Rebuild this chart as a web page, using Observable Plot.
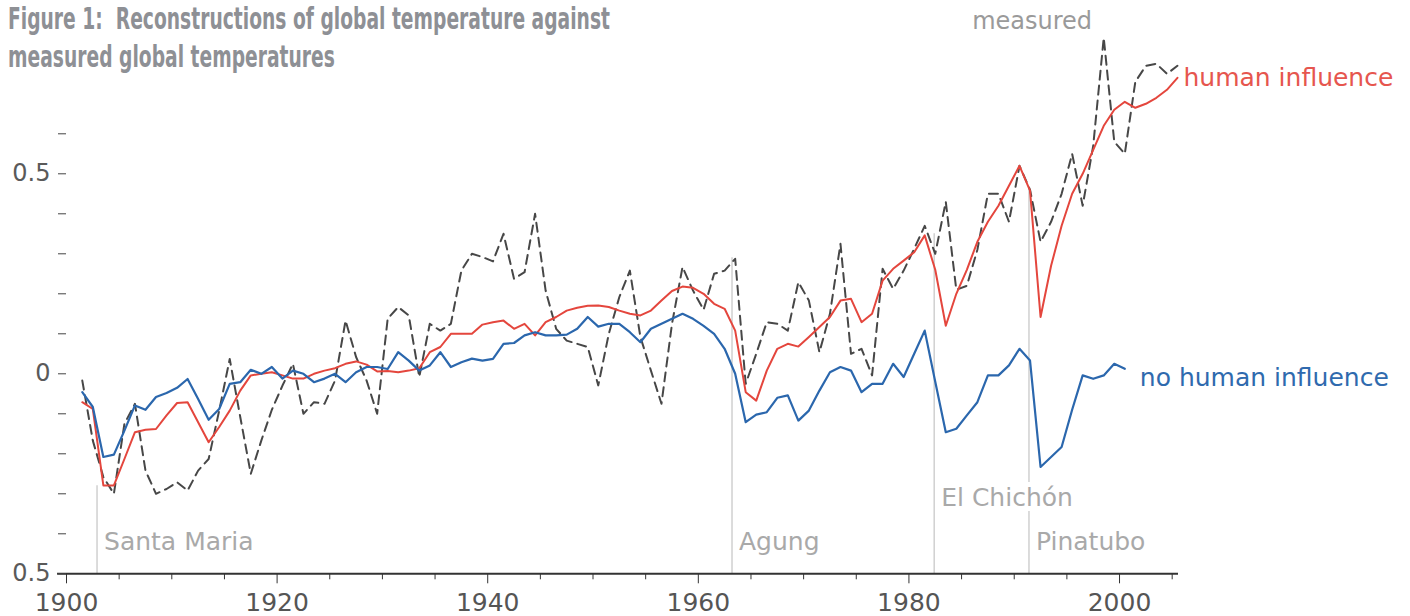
<!DOCTYPE html>
<html>
<head>
<meta charset="utf-8">
<script src="https://cdn.jsdelivr.net/npm/d3@7"></script>
<script src="https://cdn.jsdelivr.net/npm/@observablehq/plot@0.6"></script>
<style>
  body { margin: 0; background: #fff; }
  #wrap { position: relative; width: 1410px; height: 616px; overflow: hidden; }
  #title {
    position: absolute; left: 8px; top: -1px;
    font-family: "Liberation Sans Narrow", "DejaVu Sans Condensed", "Roboto Condensed", sans-serif;
    font-stretch: condensed; font-weight: bold; font-size: 31px; line-height: 38px;
    color: #8e9095; white-space: nowrap; transform-origin: 0 0;
  }
  #title span { display: inline-block; }
</style>
</head>
<body>
<div id="wrap">
  <div id="chart"></div>
  <div id="title"><span id="t1">Figure 1:&nbsp; Reconstructions of global temperature against</span><br><span>measured global temperatures</span></div>
</div>
<script>
// Global temperature anomalies (°C), annual values from 1901 onward
const firstYear = 1901;

const measured = [
  -0.017, -0.167, -0.258, -0.30, -0.125, -0.075, -0.242, -0.30, -0.288, -0.271,
  -0.292, -0.242, -0.213, -0.092, 0.037, -0.108, -0.25, -0.167, -0.09, -0.03,
  0.025, -0.10, -0.071, -0.075, -0.017, 0.133, 0.042, -0.017, -0.10, 0.1375,
  0.167, 0.146, -0.008, 0.125, 0.108, 0.125, 0.258, 0.30, 0.292, 0.281,
  0.35, 0.2375, 0.254, 0.40, 0.208, 0.1125, 0.083, 0.075, 0.067, -0.029,
  0.10, 0.192, 0.258, 0.092, 0.008, -0.075, 0.125, 0.267, 0.208, 0.16,
  0.25, 0.258, 0.2875, -0.025, 0.05, 0.129, 0.125, 0.108, 0.229, 0.183,
  0.054, 0.15, 0.325, 0.05, 0.0625, -0.004, 0.2625, 0.2125, 0.258, 0.3125,
  0.37, 0.30, 0.43, 0.21, 0.22, 0.31, 0.45, 0.45, 0.38, 0.52,
  0.46, 0.33, 0.38, 0.45, 0.55, 0.42, 0.57, 0.84, 0.58, 0.55,
  0.73, 0.77, 0.775, 0.75, 0.77
];

const humanInfluence = [
  -0.071, -0.088, -0.279, -0.279, -0.213, -0.146, -0.14, -0.138, -0.104, -0.073,
  -0.071, -0.121, -0.171, -0.133, -0.092, -0.042, -0.004, 0, 0.004, -0.004,
  -0.012, -0.012, 0, 0.008, 0.014, 0.025, 0.031, 0.023, 0.006, 0.007,
  0.004, 0.008, 0.014, 0.054, 0.067, 0.10, 0.10, 0.10, 0.123, 0.129,
  0.133, 0.1125, 0.125, 0.096, 0.129, 0.142, 0.158, 0.165, 0.17, 0.171,
  0.167, 0.158, 0.15, 0.146, 0.158, 0.183, 0.207, 0.218, 0.215, 0.20,
  0.175, 0.1625, 0.108, -0.046, -0.067, 0.008, 0.0625, 0.075, 0.068, 0.092,
  0.117, 0.142, 0.183, 0.1875, 0.129, 0.15, 0.233, 0.2625, 0.283, 0.304,
  0.346, 0.26, 0.12, 0.20, 0.26, 0.33, 0.38, 0.42, 0.47, 0.52,
  0.458, 0.142, 0.27, 0.37, 0.45, 0.50, 0.56, 0.62, 0.66, 0.68,
  0.665, 0.675, 0.69, 0.71, 0.74
];

const noHumanInfluence = [
  -0.046, -0.083, -0.208, -0.202, -0.142, -0.079, -0.09, -0.058, -0.048, -0.035,
  -0.013, -0.063, -0.115, -0.088, -0.025, -0.021, 0.01, 0, 0.017, -0.012,
  0.008, 0, -0.021, -0.012, 0, -0.021, 0.004, 0.017, 0.017, 0.012,
  0.054, 0.033, 0.008, 0.021, 0.054, 0.017, 0.029, 0.038, 0.033, 0.0375,
  0.075, 0.077, 0.096, 0.104, 0.096, 0.096, 0.098, 0.1125, 0.142, 0.118,
  0.125, 0.125, 0.104, 0.079, 0.1125, 0.125, 0.1375, 0.15, 0.1375, 0.12,
  0.10, 0.0625, 0, -0.121, -0.102, -0.096, -0.06, -0.054, -0.117, -0.092,
  -0.042, 0.004, 0.017, 0.008, -0.046, -0.025, -0.025, 0.025, -0.008, 0.05,
  0.108, -0.02, -0.146, -0.1375, -0.104, -0.071, -0.004, -0.004, 0.021, 0.0625,
  0.033, -0.233, -0.208, -0.183, -0.09, -0.004, -0.0125, -0.004, 0.025, 0.0125
];

// Volcanic eruptions marked on the time axis
const volcanoNames = ["Santa Maria", "Agung", "El Chichón", "Pinatubo"];
const volcanoYears = [1902.9, 1963.2, 1982.4, 1991.4];
const volcanoRuleTops = [-0.28, 0.29, 0.35, 0.46];

const seriesNames = ["measured", "human influence", "no human influence"];

// Axis ticks
const xTickYears = [1900, 1920, 1940, 1960, 1980, 2000];
const xMinorYears = [1905, 1910, 1915, 1925, 1930, 1935, 1945, 1950, 1955, 1965, 1970, 1975, 1985, 1990, 1995, 2005];
const yTickValues = [-0.5, -0.4, -0.3, -0.2, -0.1, 0, 0.1, 0.2, 0.3, 0.4, 0.5, 0.6];
const yTickLabels = {"-0.5": "0.5", "0": "0", "0.5": "0.5"};

const toRows = values => values.map((value, i) => ({year: firstYear + i, value}));
const measuredRows = toRows(measured);
const humanRows = toRows(humanInfluence);
const naturalRows = toRows(noHumanInfluence);
const volcanoes = volcanoNames.map((name, i) => ({name, year: volcanoYears[i], top: volcanoRuleTops[i]}));

// Annual means sit at the middle of their year
const midYear = d => d.year + 0.5;
const lastOf = rows => [rows[rows.length - 1]];

const red = "#e4463d";
const blue = "#2b67ad";
const volcanoLabelLevel = {"Santa Maria": -0.42, "Agung": -0.42, "El Chichón": -0.31, "Pinatubo": -0.42};

const chart = Plot.plot({
  width: 1410,
  height: 616,
  marginLeft: 66,
  marginRight: 232,
  marginTop: 13.3,
  marginBottom: 42.7,
  style: {fontFamily: "DejaVu Sans", background: "white", overflow: "visible"},
  x: {domain: [1900, 2005.6]},
  y: {domain: [-0.5, 0.9]},
  marks: [
    Plot.ruleX(volcanoes, {x: "year", y1: -0.5, y2: "top", stroke: "#d0d0d0", strokeWidth: 1.5}),
    Plot.line(measuredRows, {x: midYear, y: "value", stroke: "#474747", strokeWidth: 2, strokeDasharray: "9,6"}),
    Plot.line(humanRows, {x: midYear, y: "value", stroke: red, strokeWidth: 2}),
    Plot.line(naturalRows, {x: midYear, y: "value", stroke: blue, strokeWidth: 2.2}),
    Plot.text(volcanoes, {
      x: "year", y: d => volcanoLabelLevel[d.name], text: "name",
      textAnchor: "start", dx: 7, fontSize: 25, fill: "#a9a9a9",
      stroke: "white", strokeWidth: 10, paintOrder: "stroke"
    }),
    Plot.text([seriesNames[0]], {x: 1991.7, y: 0.88, text: d => d, textAnchor: "middle", fontSize: 24, fill: "#9a9a9a"}),
    Plot.text(lastOf(humanRows), {x: midYear, y: "value", text: () => seriesNames[1], textAnchor: "start", dx: 6, dy: 0, fontSize: 25, fill: "#e6564e"}),
    Plot.text(lastOf(naturalRows), {x: midYear, y: "value", text: () => seriesNames[2], textAnchor: "start", dx: 15, dy: 9, fontSize: 25, fill: "#2f6aae"}),
    Plot.axisX({ticks: xMinorYears, tickSize: 6, tickFormat: () => "", stroke: "#333", label: null}),
    Plot.axisX({ticks: xTickYears, tickSize: 10, tickPadding: 9, tickFormat: d => String(d), fontSize: 25, stroke: "#333", fill: "#555", label: null}),
    Plot.ruleY([-0.5], {x1: 1899.15, x2: 2005.6, stroke: "#333", strokeWidth: 2}),
    Plot.axisY({ticks: yTickValues, tickSize: 8, tickPadding: 8, tickFormat: d => yTickLabels[String(d)] ?? "", fontSize: 24, stroke: "#444", fill: "#5a5a5a", label: null})
  ]
});
document.getElementById("chart").append(chart);

// Fit the condensed headline to its measure
const title = document.getElementById("title");
const firstLine = document.getElementById("t1");
const w = firstLine.getBoundingClientRect().width;
if (w > 0) title.style.transform = `scaleX(${602 / w})`;
</script>
</body>
</html>
